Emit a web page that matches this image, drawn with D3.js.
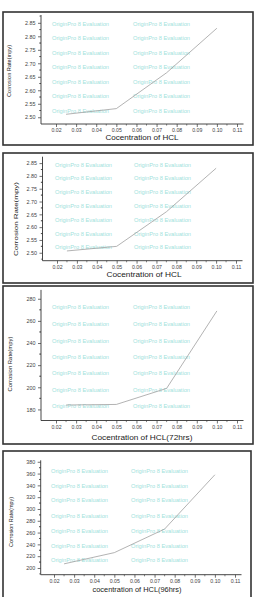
<!DOCTYPE html>
<html>
<head>
<meta charset="utf-8">
<script src="https://cdn.jsdelivr.net/npm/d3@7"></script>
<style>
    html, body { margin: 0; padding: 0; background: #fff; }
    svg { display: block; font-family: "Liberation Sans", Arial, sans-serif; }
</style>
</head>
<body>
<div id="chart"></div>
<script>
// concentration of HCl (x) and corrosion rate (mpy) for each panel
const concentration = [0.025, 0.05, 0.075, 0.10];
const rateA = [2.511, 2.532, 2.665, 2.83];
const rateB = [2.507, 2.525, 2.66, 2.83];
const rate72 = [184, 184.5, 199, 269];
const rate96 = [207, 226, 266, 358];

const xTicks = [0.02, 0.03, 0.04, 0.05, 0.06, 0.07, 0.08, 0.09, 0.10, 0.11];
const yTicksA = [2.50, 2.55, 2.60, 2.65, 2.70, 2.75, 2.80, 2.85];
const yTicks72 = [180, 200, 220, 240, 260, 280];
const yTicks96 = [200, 220, 240, 260, 280, 300, 320, 340, 360, 380];

const xTitles = ['Cocentration of HCL', 'Cocentration of HCL', 'Cocentration of HCL(72hrs)', 'cocentration of HCL(96hrs)'];
const yTitle = 'Corrosion Rate(mpy)';
const watermark = 'OriginPro 8 Evaluation';

// layout of the four stacked panels (pixels)
const panels = [
    {values: rateA, yTicks: yTicksA, fmt: '.2f', frame: [3, 12, 253, 145],
     axisX: 41, xRange: [56, 237], xAxisY: 124, yDomain: [2.475, 2.879], yTop: 15,
     yTitleX: 9, yTitleY: 71, yTitleLen: 52, xTitleY: 140, xTitleX: 142, xTitleLen: 73,
     wmRows: [24, 38, 53, 67, 82, 96, 111], wmCols: [52, 133]},
    {values: rateB, yTicks: yTicksA, fmt: '.2f', frame: [3, 153, 253, 283],
     axisX: 42.5, xRange: [57, 236], xAxisY: 260.7, yDomain: [2.469, 2.875], yTop: 156.7,
     yTitleX: 16, yTitleY: 219, yTitleLen: 74, xTitleY: 277, xTitleX: 144, xTitleLen: 75,
     wmRows: [165, 178.7, 192.3, 206, 220, 234, 247.7], wmCols: [55, 134]},
    {values: rate72, yTicks: yTicks72, fmt: 'd', frame: [3, 286, 253, 444],
     axisX: 41, xRange: [56, 237], xAxisY: 420.5, yDomain: [170, 288], yTop: 289.9,
     yTitleX: 10, yTitleY: 364, yTitleLen: 55, xTitleY: 439.5, xTitleX: 142, xTitleLen: 101,
     wmRows: [307.3, 324.7, 341.3, 357.7, 373.3, 390, 406], wmCols: [52, 133]},
    {values: rate96, yTicks: yTicks96, fmt: 'd', frame: [3, 451, 251, 620],
     axisX: 40.7, xRange: [54, 235], xAxisY: 574.7, yDomain: [188.6, 382.5], yTop: 460.3,
     yTitleX: 11, yTitleY: 522, yTitleLen: 50, xTitleY: 591.5, xTitleX: 137, xTitleLen: 89,
     wmRows: [471.3, 486, 500.7, 516, 531, 546, 560.7], wmCols: [51, 131]}
];

const svg = d3.select('#chart').append('svg')
    .attr('width', 255)
    .attr('height', 597);

panels.forEach((p, idx) => {
    const g = svg.append('g');
    const [fx0, fy0, fx1, fy1] = p.frame;

    g.append('rect')
        .attr('x', fx0).attr('y', fy0)
        .attr('width', fx1 - fx0).attr('height', fy1 - fy0)
        .attr('fill', 'none')
        .attr('stroke', '#333')
        .attr('stroke-width', 1.6);

    // x scale: map tick 0.02 and 0.11 onto measured pixels
    const xScale = d3.scaleLinear()
        .domain([0.02, 0.11])
        .range(p.xRange);
    const xEnd = xScale.invert(p.xRange[1] + 6.5);

    const yScale = d3.scaleLinear()
        .domain(p.yDomain)
        .range([p.xAxisY, p.yTop]);

    // watermark text of the evaluation copy
    p.wmRows.forEach(r => p.wmCols.forEach(c => {
        g.append('text')
            .attr('x', c).attr('y', r + 1.5)
            .attr('font-size', 4.6)
            .attr('fill', '#a2e2dc')
            .attr('textLength', 57)
            .attr('lengthAdjust', 'spacingAndGlyphs')
            .text(watermark);
    }));

    // minor ticks
    const xStep = xTicks[1] - xTicks[0];
    const xMinor = xTicks.map(t => t + xStep / 2).filter(t => t < xEnd);
    const yStep = p.yTicks[1] - p.yTicks[0];
    const yMinor = p.yTicks.map(t => t - yStep / 2).concat(p.yTicks.map(t => t + yStep / 2))
        .filter(t => t > p.yDomain[0] && t < p.yDomain[1] && !p.yTicks.includes(t));

    const xAxis = d3.axisBottom(xScale)
        .tickValues(xTicks)
        .tickFormat(d3.format('.2f'))
        .tickSize(3)
        .tickSizeOuter(0)
        .tickPadding(1.5);

    const xg = g.append('g')
        .attr('transform', `translate(0,${p.xAxisY})`)
        .call(xAxis);
    xg.select('.domain').remove();
    xg.append('line')
        .attr('x1', p.axisX).attr('x2', xScale(xEnd))
        .attr('stroke', '#333').attr('stroke-width', 0.9);
    xg.selectAll('.tick line').attr('stroke', '#333').attr('stroke-width', 0.7);
    xg.selectAll('.tick text').attr('font-size', 5.2).attr('fill', '#444').attr('font-family', null);
    xg.selectAll('.minor').data(xMinor).enter().append('line')
        .attr('x1', d => xScale(d)).attr('x2', d => xScale(d))
        .attr('y1', 0).attr('y2', 1.6)
        .attr('stroke', '#333').attr('stroke-width', 0.6);

    const yAxis = d3.axisLeft(yScale)
        .tickValues(p.yTicks)
        .tickFormat(d3.format(p.fmt))
        .tickSize(3)
        .tickSizeOuter(0)
        .tickPadding(2.5);

    const yg = g.append('g')
        .attr('transform', `translate(${p.axisX},0)`)
        .call(yAxis);
    yg.select('.domain').remove();
    yg.append('line')
        .attr('y1', p.xAxisY).attr('y2', p.yTop)
        .attr('stroke', '#333').attr('stroke-width', 0.9);
    yg.selectAll('.tick line').attr('stroke', '#333').attr('stroke-width', 0.7);
    yg.selectAll('.tick text').attr('font-size', 5.4).attr('fill', '#444').attr('font-family', null);
    yg.selectAll('.minor').data(yMinor).enter().append('line')
        .attr('y1', d => yScale(d)).attr('y2', d => yScale(d))
        .attr('x1', 0).attr('x2', -1.6)
        .attr('stroke', '#333').attr('stroke-width', 0.6);

    // data line
    const line = d3.line()
        .x(d => xScale(d[0]))
        .y(d => yScale(d[1]));
    g.append('path')
        .datum(concentration.map((c, i) => [c, p.values[i]]))
        .attr('d', line)
        .attr('fill', 'none')
        .attr('stroke', '#a0a0a0')
        .attr('stroke-width', 0.8);

    // axis titles
    g.append('text')
        .attr('x', p.xTitleX).attr('y', p.xTitleY)
        .attr('text-anchor', 'middle')
        .attr('font-size', 7.5)
        .attr('fill', '#222')
        .attr('textLength', p.xTitleLen)
        .attr('lengthAdjust', 'spacingAndGlyphs')
        .text(xTitles[idx]);

    g.append('text')
        .attr('transform', `translate(${p.yTitleX},${p.yTitleY}) rotate(-90)`)
        .attr('text-anchor', 'middle')
        .attr('dy', '0.35em')
        .attr('font-size', 6)
        .attr('fill', '#222')
        .attr('textLength', p.yTitleLen)
        .attr('lengthAdjust', 'spacingAndGlyphs')
        .text(yTitle);
});
</script>
</body>
</html>
